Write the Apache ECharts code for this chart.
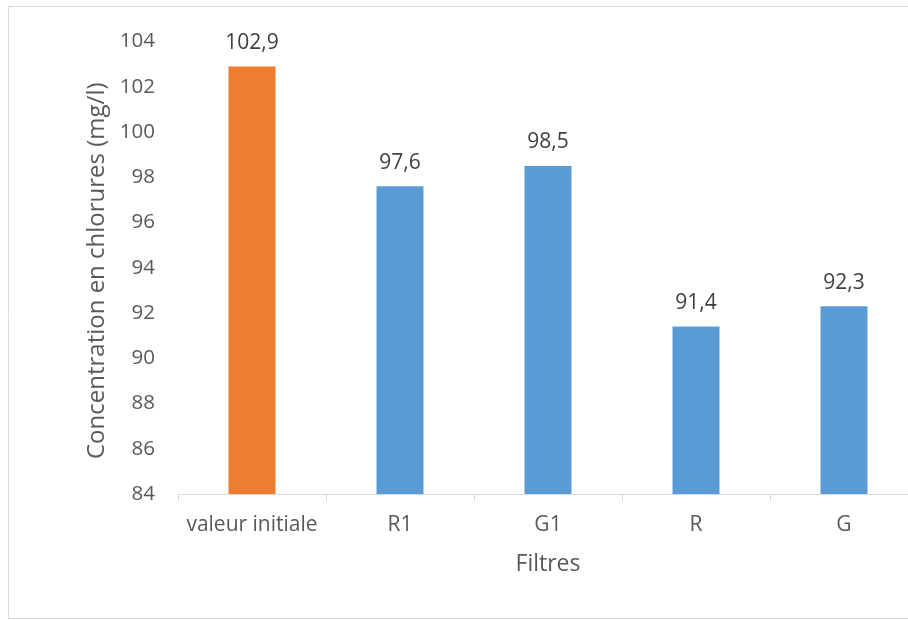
<!DOCTYPE html>
<html>
<head>
<meta charset="utf-8">
<script src="https://cdn.jsdelivr.net/npm/echarts@6/dist/echarts.min.js"></script>
<style>
  html, body { margin: 0; padding: 0; background: #ffffff; }
  #chart { width: 908px; height: 620px; }
</style>
</head>
<body>
<div id="chart"></div>
<script>
// Chloride concentration measured before and after each filter
const categories = ['valeur initiale', 'R1', 'G1', 'R', 'G'];
const concentrations = [102.9, 97.6, 98.5, 91.4, 92.3];
const barColors = ['#ED7D31', '#5B9BD5', '#5B9BD5', '#5B9BD5', '#5B9BD5'];
const yTicks = [84, 86, 88, 90, 92, 94, 96, 98, 100, 102, 104];

const font = '"Open Sans", "Noto Sans", sans-serif';
const chart = echarts.init(document.getElementById('chart'), null, { renderer: 'canvas' });

chart.setOption({
  backgroundColor: '#ffffff',
  animation: false,
  graphic: [{
    type: 'rect',
    shape: { x: 8.5, y: 6.5, width: 1000, height: 612 },
    style: { fill: 'none', stroke: '#d9d9d9', lineWidth: 1 },
    silent: true
  }],
  grid: {
    left: 178, width: 740, top: 41.5, height: 452.5,
    containLabel: false,
    outerBoundsMode: 'none'
  },
  xAxis: {
    type: 'category',
    data: categories,
    name: 'Filtres',
    nameLocation: 'middle',
    nameGap: 59,
    nameTextStyle: { fontFamily: font, fontSize: 23, color: '#595959' },
    axisLine: { show: true, lineStyle: { color: '#d9d9d9', width: 1 } },
    axisTick: { show: true, alignWithLabel: false, length: 7, lineStyle: { color: '#d9d9d9' } },
    axisLabel: { interval: 0, fontFamily: font, fontSize: 21, color: '#595959', margin: 21 },
    splitLine: { show: false }
  },
  yAxis: {
    type: 'value',
    min: yTicks[0],
    max: yTicks[yTicks.length - 1],
    interval: 2,
    name: 'Concentration en chlorures (mg/l)',
    nameLocation: 'middle',
    nameRotate: 90,
    nameGap: 68,
    nameTextStyle: { fontFamily: font, fontSize: 24, color: '#595959', padding: [0, 6, 0, 0] },
    axisLine: { show: false },
    axisTick: { show: false },
    splitLine: { show: false },
    axisLabel: { fontFamily: font, fontSize: 20.5, color: '#595959', margin: 23 }
  },
  series: [{
    type: 'bar',
    barWidth: 47,
    data: concentrations.map((v, i) => ({ value: v, itemStyle: { color: barColors[i] } })),
    label: {
      show: true,
      position: 'top',
      distance: 13,
      fontFamily: font,
      fontSize: 21,
      color: '#404040',
      formatter: p => String(p.value).replace('.', ',')
    }
  }]
});
</script>
</body>
</html>
